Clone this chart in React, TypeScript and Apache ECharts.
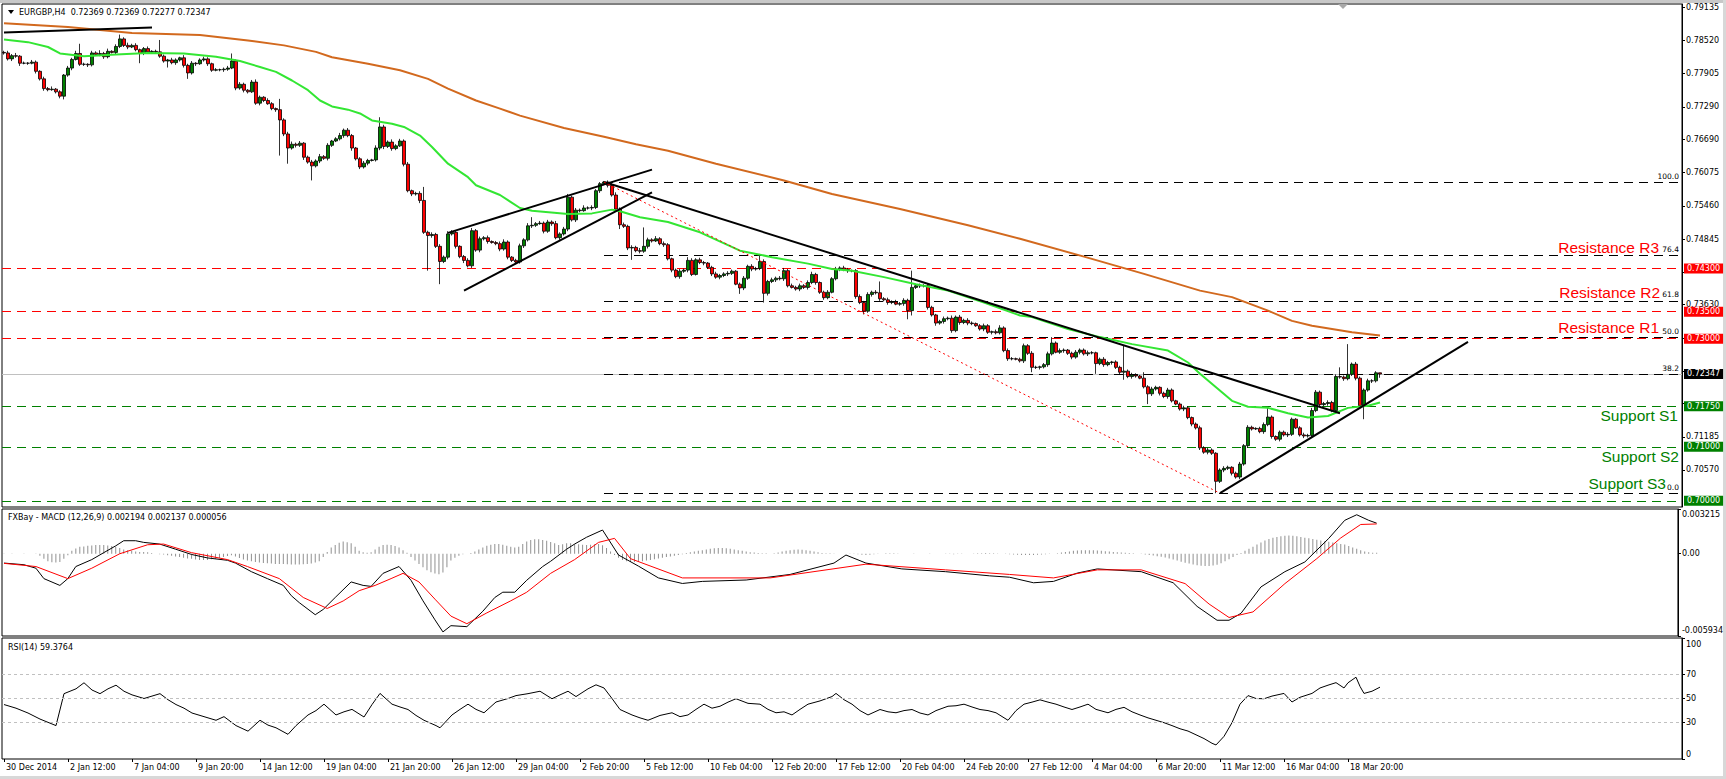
import React, { useEffect, useRef } from "react";
import * as echarts from "echarts";

const FONT = "DejaVu Sans";
const TXT_FONT = "Liberation Sans";

// ---------------- axis / labels ----------------
const timeLabels = [
  "30 Dec 2014", "2 Jan 12:00", "7 Jan 04:00", "9 Jan 20:00", "14 Jan 12:00", "19 Jan 04:00",
  "21 Jan 20:00", "26 Jan 12:00", "29 Jan 04:00", "2 Feb 20:00", "5 Feb 12:00", "10 Feb 04:00",
  "12 Feb 20:00", "17 Feb 12:00", "20 Feb 04:00", "24 Feb 20:00", "27 Feb 12:00", "4 Mar 04:00",
  "6 Mar 20:00", "11 Mar 12:00", "16 Mar 04:00", "18 Mar 20:00",
];
const barsPerLabel = 16;
const slotCount = 420;

// price-scale ticks; the ones hidden behind level boxes carry no text
const priceTicks = [0.79135, 0.7852, 0.77905, 0.7729, 0.7669, 0.76075, 0.7546, 0.74845, 0.7423, 0.7363, 0.73015, 0.724, 0.718, 0.71185, 0.7057];
const priceTickLabels = [0.79135, 0.7852, 0.77905, 0.7729, 0.7669, 0.76075, 0.7546, 0.74845, 0.7363, 0.71185, 0.7057];
const priceMin = 0.69885;
const priceMax = 0.79196;
const macdMin = -0.005934;
const macdMax = 0.003215;
const macdTicks = [0.003215, 0, -0.005934];
const rsiTicks = [100, 70, 50, 30, 0];
const rsiLevels = [70, 50, 30];

const headerText = "EURGBP,H4  0.72369 0.72369 0.72277 0.72347";
const macdTitle = "FXBay - MACD (12,26,9) 0.002194 0.002137 0.000056";
const rsiTitle = "RSI(14) 59.3764";

// ---------------- price data (pips, 1 pip = 0.0001) ----------------
const firstOpen = 7830;
const closes = [
  7829, 7818, 7824, 7823, 7810, 7810, 7810, 7812, 7795, 7781,
  7763, 7761, 7762, 7757, 7749, 7788, 7801, 7817, 7828, 7808,
  7808, 7807, 7829, 7826, 7828, 7822, 7832, 7830, 7841, 7855,
  7843, 7840, 7843, 7835, 7828, 7837, 7831, 7832, 7831, 7823,
  7814, 7816, 7811, 7816, 7820, 7806, 7792, 7810, 7809, 7816,
  7818, 7809, 7797, 7798, 7798, 7799, 7801, 7814, 7764, 7771,
  7760, 7757, 7775, 7736, 7747, 7741, 7735, 7726, 7724, 7705,
  7679, 7653, 7660, 7658, 7662, 7636, 7627, 7620, 7629, 7637,
  7634, 7658, 7666, 7670, 7676, 7686, 7676, 7653, 7633, 7618,
  7625, 7630, 7631, 7653, 7692, 7656, 7664, 7652, 7657, 7666,
  7623, 7574, 7568, 7569, 7556, 7497, 7491, 7493, 7471, 7443,
  7451, 7494, 7497, 7471, 7452, 7445, 7435, 7500, 7464, 7485,
  7487, 7480, 7478, 7476, 7466, 7479, 7451, 7445, 7442, 7472,
  7483, 7509, 7510, 7513, 7514, 7499, 7516, 7513, 7487, 7494,
  7503, 7562, 7520, 7538, 7537, 7542, 7542, 7543, 7574, 7587,
  7590, 7584, 7566, 7540, 7511, 7508, 7468, 7469, 7463, 7462,
  7471, 7483, 7481, 7485, 7476, 7474, 7448, 7427, 7415, 7425,
  7427, 7445, 7419, 7446, 7441, 7440, 7432, 7420, 7414, 7417,
  7420, 7421, 7425, 7401, 7394, 7412, 7434, 7429, 7430, 7443,
  7384, 7406, 7409, 7412, 7411, 7426, 7398, 7395, 7392, 7398,
  7395, 7404, 7419, 7404, 7386, 7376, 7386, 7411, 7429, 7431,
  7428, 7426, 7426, 7378, 7367, 7351, 7382, 7386, 7385, 7374,
  7372, 7367, 7368, 7364, 7365, 7371, 7352, 7395, 7398, 7398,
  7398, 7358, 7344, 7329, 7332, 7337, 7338, 7315, 7340, 7330,
  7334, 7329, 7328, 7324, 7318, 7324, 7312, 7313, 7311, 7320,
  7278, 7263, 7263, 7262, 7259, 7287, 7273, 7247, 7247, 7248,
  7252, 7272, 7292, 7275, 7278, 7279, 7273, 7266, 7275, 7279,
  7272, 7274, 7274, 7254, 7262, 7252, 7256, 7257, 7247, 7238,
  7240, 7230, 7233, 7231, 7227, 7211, 7198, 7207, 7210, 7199,
  7193, 7205, 7185, 7179, 7170, 7172, 7154, 7142, 7135, 7098,
  7090, 7094, 7088, 7036, 7057, 7060, 7062, 7051, 7044, 7068,
  7102, 7136, 7133, 7134, 7128, 7141, 7155, 7119, 7114, 7127,
  7122, 7123, 7151, 7135, 7122, 7120, 7121, 7167, 7201, 7178,
  7180, 7182, 7167, 7230, 7229, 7226, 7234, 7253, 7227, 7176,
  7205, 7222, 7222, 7236.9, 7234.7,
];
// wick lengths above / below the candle body, in pips
const wickUp = [
  3, 4, 3, 5, 2, 3, 2, 4, 3, 2,
  4, 3, 5, 2, 3, 2, 4, 3, 5, 18,
  3, 2, 4, 3, 6, 3, 5, 2, 4, 8,
  3, 5, 3, 4, 2, 3, 4, 2, 3, 22,
  3, 2, 4, 3, 2, 5, 3, 4, 2, 3,
  4, 3, 2, 3, 2, 3, 4, 14, 3, 4,
  3, 2, 4, 5, 3, 2, 4, 3, 2, 20,
  3, 4, 5, 3, 4, 2, 3, 4, 3, 5,
  3, 4, 2, 3, 5, 3, 4, 3, 2, 3,
  4, 3, 2, 5, 18, 4, 3, 5, 3, 4,
  3, 4, 2, 3, 4, 25, 3, 4, 3, 4,
  3, 5, 4, 3, 2, 3, 4, 5, 3, 4,
  3, 4, 2, 3, 4, 5, 3, 2, 3, 4,
  3, 5, 15, 3, 4, 3, 4, 3, 5, 3,
  4, 6, 3, 4, 3, 5, 3, 4, 3, 3,
  2, 3, 4, 5, 3, 4, 3, 4, 3, 5,
  35, 4, 3, 5, 3, 4, 3, 2, 3, 4,
  3, 6, 4, 3, 4, 3, 2, 3, 4, 3,
  3, 4, 3, 2, 3, 4, 3, 4, 3, 14,
  4, 3, 4, 3, 4, 5, 3, 4, 3, 4,
  3, 4, 5, 3, 2, 3, 4, 3, 4, 3,
  4, 3, 2, 3, 4, 3, 4, 3, 4, 21,
  3, 4, 3, 4, 3, 4, 3, 31, 3, 4,
  3, 4, 3, 2, 3, 4, 3, 5, 3, 4,
  3, 4, 3, 2, 3, 4, 3, 2, 4, 5,
  3, 4, 3, 2, 3, 4, 3, 4, 3, 2,
  3, 4, 11, 3, 4, 3, 2, 3, 4, 3,
  3, 4, 3, 2, 3, 4, 3, 2, 3, 3,
  47, 3, 4, 3, 2, 11, 3, 4, 3, 2,
  3, 4, 3, 2, 3, 4, 3, 2, 3, 4,
  3, 4, 3, 2, 3, 4, 3, 2, 3, 4,
  3, 4, 3, 2, 3, 4, 17, 3, 2, 3,
  3, 4, 3, 2, 3, 4, 3, 5, 4, 3,
  3, 4, 3, 4, 17, 3, 56, 3, 4, 3,
  3, 4, 3, 3, 0,
];
const wickDn = [
  3, 3, 4, 3, 5, 2, 3, 2, 4, 3,
  4, 3, 2, 3, 4, 6, 3, 4, 2, 3,
  3, 4, 3, 2, 3, 4, 3, 2, 3, 3,
  3, 4, 2, 3, 18, 3, 4, 2, 3, 3,
  3, 12, 3, 4, 3, 4, 11, 3, 4, 2,
  3, 4, 3, 2, 3, 4, 3, 2, 4, 3,
  4, 3, 2, 3, 4, 3, 2, 3, 4, 66,
  4, 29, 3, 4, 3, 5, 3, 27, 3, 4,
  3, 4, 3, 2, 3, 4, 3, 5, 3, 4,
  3, 4, 2, 3, 4, 5, 3, 4, 3, 2,
  4, 3, 4, 3, 5, 3, 65, 4, 3, 42,
  3, 4, 3, 4, 3, 5, 3, 4, 3, 4,
  3, 4, 2, 3, 4, 3, 4, 3, 4, 3,
  4, 3, 4, 3, 2, 4, 3, 4, 3, 4,
  3, 4, 3, 4, 3, 2, 3, 4, 3, 4,
  3, 4, 3, 5, 8, 3, 4, 22, 3, 4,
  3, 4, 3, 2, 3, 4, 3, 4, 3, 4,
  3, 4, 3, 2, 3, 4, 3, 4, 3, 4,
  3, 4, 3, 2, 11, 4, 3, 4, 3, 3,
  17, 4, 3, 4, 3, 4, 3, 2, 3, 4,
  3, 4, 3, 4, 3, 4, 3, 2, 3, 4,
  3, 4, 3, 4, 3, 6, 3, 4, 3, 4,
  3, 4, 3, 2, 3, 4, 16, 9, 3, 4,
  3, 4, 3, 5, 3, 4, 3, 4, 3, 4,
  3, 4, 3, 2, 3, 4, 3, 4, 3, 3,
  3, 4, 3, 2, 3, 4, 3, 9, 3, 4,
  3, 4, 3, 2, 3, 4, 3, 4, 3, 4,
  3, 4, 3, 19, 3, 4, 3, 4, 3, 4,
  14, 3, 4, 3, 2, 3, 19, 4, 3, 4,
  3, 4, 3, 2, 3, 4, 3, 4, 3, 4,
  3, 4, 3, 22, 3, 4, 3, 4, 3, 4,
  3, 4, 3, 2, 3, 4, 3, 4, 3, 4,
  3, 4, 3, 2, 3, 4, 3, 4, 3, 4,
  3, 4, 3, 4, 3, 4, 3, 3, 4, 5,
  25, 3, 4, 3, 7,
];

// moving averages [bar, pips]
const ma50 = [
  [0, 7854], [6, 7849], [11, 7840], [14, 7828], [20, 7823], [28, 7826], [36, 7829], [45, 7828],
  [53, 7822], [59, 7814], [64, 7803], [68, 7794], [72, 7778], [76, 7760], [79, 7741], [82, 7730],
  [86, 7724], [89, 7717], [92, 7704], [97, 7698], [100, 7692], [104, 7676], [107, 7655], [111, 7624],
  [116, 7599], [118, 7584], [124, 7566], [129, 7542], [132, 7537], [141, 7531], [147, 7532],
  [152, 7539], [154, 7536], [159, 7525], [166, 7516], [174, 7497], [184, 7463], [192, 7451],
  [201, 7439], [207, 7429], [212, 7426], [220, 7414], [228, 7401], [236, 7389], [245, 7367],
  [254, 7343], [257, 7340], [266, 7318], [274, 7303], [282, 7290], [291, 7278], [296, 7256],
  [299, 7235], [303, 7210], [307, 7185], [311, 7174], [316, 7172], [321, 7162], [326, 7154],
  [331, 7157], [336, 7172], [341, 7176], [344, 7182],
];
const ma200 = [
  [0, 7884], [16, 7877], [32, 7866], [49, 7862], [61, 7852], [70, 7843], [78, 7831], [82, 7821],
  [91, 7809], [99, 7797], [106, 7781], [111, 7763], [118, 7741], [124, 7726], [129, 7713],
  [140, 7690], [150, 7674], [158, 7660], [166, 7648], [178, 7624], [195, 7593], [207, 7568],
  [224, 7540], [241, 7510], [254, 7485], [270, 7452], [285, 7420], [299, 7389], [307, 7377],
  [316, 7352], [322, 7333], [327, 7324], [332, 7318], [337, 7312], [344, 7306],
];

// drawn trend lines [bar, pips]
const topLine = [[0, 7867], [37, 7876]];
const wedgeUpper = [[111, 7496], [162, 7613]];
const wedgeLower = [[115, 7389], [162, 7571]];
const downTrend = [[150, 7590], [334, 7162]];
const upTrend = [[304, 7014], [366, 7294]];
const dottedLine = [[150, 7590], [304, 7014]];

// horizontal levels
const resistanceLevels = [0.743, 0.735, 0.73];
const resistanceNames = ["Resistance R3", "Resistance R2", "Resistance R1"];
const supportLevels = [0.7175, 0.71, 0.7];
const supportNames = ["Support S1", "Support S2", "Support S3"];
const lastPrice = 0.72347;
const fibHigh = 0.759;
const fibLow = 0.7014;
const fibStartBar = 150;
const fibRatios = [100, 76.4, 61.8, 50, 38.2, 0];

// ---------------- MACD (values) ----------------
const macdLine = [
  [0, -0.00068], [5, -0.0008], [8, -0.00105], [10, -0.0018], [14, -0.00229], [16, -0.0018],
  [18, -0.00093], [22, -0.00043], [25, 0.00007], [28, 0.00056], [30, 0.00093], [33, 0.00093],
  [35, 0.00081], [39, 0.00069], [43, 0.00032], [47, -0.00006], [51, -0.00031], [56, -0.00048],
  [58, -0.00068], [62, -0.0013], [66, -0.0018], [70, -0.00229], [72, -0.00303], [74, -0.00353],
  [78, -0.0044], [80, -0.00402], [83, -0.00316], [87, -0.00204], [90, -0.00229], [92, -0.00236],
  [95, -0.00142], [99, -0.00093], [102, -0.00192], [105, -0.0034], [108, -0.00477], [110, -0.00564],
  [112, -0.00519], [116, -0.00526], [120, -0.00415], [123, -0.00316], [125, -0.00278],
  [128, -0.00278], [131, -0.00192], [135, -0.00093], [137, -0.00055], [141, 0.00032],
  [143, 0.00069], [146, 0.00118], [150, 0.0017], [154, -0.0001], [159, -0.0009], [164, -0.00175],
  [170, -0.00215], [175, -0.002], [186, -0.0019], [197, -0.0015], [208, -0.00068], [211, -0.0001],
  [216, -0.00068], [225, -0.0011], [236, -0.0013], [247, -0.0016], [252, -0.0017], [258, -0.0021],
  [263, -0.002], [269, -0.0014], [274, -0.0011], [285, -0.0013], [293, -0.0021], [299, -0.0038],
  [304, -0.0048], [307, -0.0048], [310, -0.0043], [315, -0.0024], [321, -0.0013], [326, -0.0006],
  [332, 0.0011], [336, 0.0024], [339, 0.0028], [342, 0.0024], [344, 0.002194],
];
const signalLine = [
  [0, -0.0007], [8, -0.00093], [16, -0.0018], [22, -0.00105], [29, -0.00001], [36, 0.00064],
  [40, 0.00069], [47, 0.00007], [56, -0.00043], [61, -0.00093], [69, -0.0018], [75, -0.00316],
  [81, -0.00395], [85, -0.00341], [89, -0.00267], [93, -0.00229], [97, -0.0018], [100, -0.00142],
  [104, -0.00204], [108, -0.00328], [112, -0.0045], [116, -0.00505], [121, -0.00427],
  [127, -0.0034], [131, -0.00278], [137, -0.00142], [143, -0.00043], [149, 0.00081],
  [153, 0.0011], [157, -0.00036], [170, -0.00175], [192, -0.00175], [208, -0.00109],
  [216, -0.00076], [236, -0.00117], [252, -0.0015], [263, -0.00175], [274, -0.00117],
  [285, -0.00117], [296, -0.00216], [302, -0.00363], [307, -0.0046], [313, -0.0042],
  [321, -0.00216], [329, -0.00036], [335, 0.00113], [340, 0.0021], [344, 0.002137],
];
// histogram, in units of 0.00001
const macdHist = [
  1, -1, 1, 0, -1, 1, 0, -1, -2, -15,
  -37, -55, -62, -64, -60, -37, -12, 20, 37, 50,
  52, 57, 59, 62, 62, 62, 59, 55, 50, 40,
  30, 25, 20, 15, 12, 12, 10, 5, 0, -5,
  -7, -12, -15, -20, -25, -30, -35, -37, -42, -45,
  -45, -45, -40, -37, -32, -25, -17, -12, -20, -32,
  -42, -50, -55, -60, -64, -67, -69, -72, -74, -74,
  -74, -77, -79, -79, -79, -77, -74, -72, -64, -55,
  -25, 12, 45, 62, 79, 87, 82, 74, 50, 20,
  10, 7, 10, 30, 50, 62, 64, 62, 55, 45,
  25, 7, -25, -50, -74, -99, -119, -134, -144, -149,
  -136, -99, -50, -30, -15, -5, 0, 5, 15, 30,
  45, 57, 64, 69, 69, 64, 57, 50, 45, 50,
  69, 87, 99, 104, 104, 99, 92, 84, 74, 62,
  67, 74, 74, 69, 67, 64, 62, 64, 67, 69,
  60, 40, 15, -10, -30, -45, -55, -60, -60, -58,
  -55, -50, -45, -40, -35, -30, -25, -20, -15, -10,
  -5, 5, 10, 15, 20, 25, 30, 35, 38, 40,
  40, 38, 35, 30, 25, 20, 15, 10, 8, 5,
  3, 2, 0, 3, 8, 15, 20, 25, 28, 30,
  28, 25, 20, 15, 10, 5, 3, 2, 1, 0,
  -1, 0, 1, -2, -5, -8, -10, -8, -5, -3,
  0, 2, 3, 2, 1, 0, -1, 0, 1, 0,
  -1, 0, 1, 0, -1, 0, -2, -3, -4, -3,
  -2, -1, 0, 1, 2, 3, 4, 3, 2, 1,
  0, -2, -4, -6, -8, -9, -10, -10, -9, -8,
  -6, -4, -2, 0, 3, 8, 12, 16, 20, 22,
  24, 25, 25, 24, 22, 20, 18, 15, 12, 10,
  8, 6, 4, 2, 0, -3, -6, -10, -14, -18,
  -22, -28, -35, -42, -50, -58, -65, -72, -78, -84,
  -88, -90, -90, -86, -80, -70, -55, -40, -25, -10,
  5, 20, 35, 50, 65, 80, 95, 105, 115, 120,
  125, 128, 130, 128, 125, 120, 115, 110, 105, 100,
  95, 90, 85, 80, 75, 70, 65, 55, 45, 35,
  25, 15, 10, 6, 5.6,
];

// ---------------- RSI(14) [bar, value] ----------------
const rsiLine = [
  [0, 45], [3, 42], [6, 38], [9, 33], [13, 27.6], [15, 54], [18, 58], [20, 63], [22, 57], [24, 54],
  [26, 58], [28, 61], [30, 56], [32, 53], [35, 50], [37, 52], [39, 54], [41, 49], [43, 45], [45, 42],
  [47, 38], [50, 35], [53, 32], [55, 35], [58, 27.6], [61, 23], [64, 32], [66, 28], [68, 25.8],
  [71, 20.4], [73, 27.6], [76, 36.4], [78, 40], [80, 45.3], [83, 36.4], [85, 39], [87, 41],
  [90, 34.7], [92, 45], [94, 54.2], [97, 45.3], [99, 43], [101, 40.9], [103, 36], [105, 32],
  [108, 27.6], [109, 25.8], [112, 36.4], [114, 41], [116, 45.3], [118, 41], [120, 38.2], [123, 47.1],
  [126, 50], [128, 52.4], [131, 54], [134, 56], [137, 49.8], [139, 53], [141, 56], [143, 51.6],
  [146, 58], [148, 61.3], [150, 58.7], [152, 50], [154, 40.9], [157, 36.4], [159, 34], [161, 32],
  [164, 36], [167, 38.2], [169, 35], [171, 36.4], [173, 41], [175, 45.3], [177, 42], [179, 43.6],
  [181, 47], [183, 49.8], [186, 46], [189, 45.3], [191, 41], [193, 38.2], [195, 39], [197, 36.4],
  [199, 41], [201, 45.3], [204, 48], [207, 51.6], [208, 54.2], [210, 49], [212, 45.3], [214, 40],
  [216, 36.4], [219, 40.9], [221, 39], [223, 38.2], [225, 40], [227, 40.9], [229, 38], [231, 36.4],
  [233, 40], [236, 43.6], [238, 44], [240, 45.3], [242, 43], [244, 40.9], [246, 40], [248, 38.2],
  [251, 32], [253, 40], [255, 45.3], [257, 47], [259, 48.9], [261, 47], [263, 45.3], [265, 43],
  [267, 40.9], [269, 43], [271, 45.3], [273, 41], [276, 38.2], [278, 41], [280, 42.7], [282, 39],
  [284, 36.4], [286, 34], [288, 32], [290, 30], [292, 27.6], [294, 25], [296, 23.1], [298, 20],
  [300, 16.9], [302, 13], [303, 11.6], [305, 18.7], [307, 30], [309, 45.3], [311, 52.4], [313, 50],
  [315, 49.8], [317, 52], [320, 54.2], [322, 47.1], [324, 51], [327, 54.2], [329, 58.7], [331, 61],
  [333, 63.1], [335, 58.7], [336, 63], [338, 67.6], [339, 60], [340, 54.2], [342, 56], [344, 59.3764],
];

// ---------------- helpers ----------------
const P = (pips: number) => pips / 10000;
const slots = Array.from({ length: slotCount }, (_, i) => String(i));

function buildCandles() {
  return closes.map((c, i) => {
    const o = i === 0 ? firstOpen : closes[i - 1];
    const hi = Math.max(o, c) + wickUp[i];
    const lo = Math.min(o, c) - wickDn[i];
    return [P(o), P(c), P(lo), P(hi)];
  });
}

const RED = "#ff0000";
const GREEN = "#008000";
const DASH = [9, 6];

function buildOption() {
  const axisLabelBase = { fontFamily: FONT, fontSize: 8, color: "#000" };
  const showTime = (i: number) => i % barsPerLabel === 0 && i / barsPerLabel < timeLabels.length;

  const fibMarks = fibRatios.map((r) => {
    const v = fibLow + (r / 100) * (fibHigh - fibLow);
    return [
      { coord: [fibStartBar, v], lineStyle: { color: "#000", type: DASH, width: 1 }, label: { show: false } },
      { coord: [slotCount - 1, v] },
    ];
  });

  const boxLabel = (text: string, bg: string) => ({
    show: true,
    position: "end",
    distance: 2,
    formatter: text,
    backgroundColor: bg,
    color: "#fff",
    fontFamily: FONT,
    fontSize: 8,
    lineHeight: 9,
    padding: [1, 3, 0, 3],
  });

  const levelMarks: any[] = [
    {
      yAxis: lastPrice,
      lineStyle: { color: "#c0c0c0", type: "solid", width: 1 },
      label: boxLabel(lastPrice.toFixed(5), "#000"),
    },
    ...resistanceLevels.map((v) => ({
      yAxis: v,
      lineStyle: { color: RED, type: DASH, width: 1 },
      label: boxLabel(v.toFixed(5), RED),
    })),
    ...supportLevels.map((v) => ({
      yAxis: v,
      lineStyle: { color: GREEN, type: DASH, width: 1 },
      label: boxLabel(v.toFixed(5), GREEN),
    })),
  ];

  const trend = (name: string, pts: number[][], style: any) => ({
    type: "line",
    name,
    xAxisIndex: 0,
    yAxisIndex: 0,
    data: pts.map(([b, p]) => [b, P(p)]),
    symbol: "none",
    lineStyle: style,
    silent: true,
    z: 4,
  });

  const gridBase = { left: 2, width: 1680, show: true, borderColor: "#000", borderWidth: 1, backgroundColor: "#fff" };

  const xBase = (gi: number) => ({
    type: "category",
    gridIndex: gi,
    data: slots,
    boundaryGap: true,
    axisLine: { show: false },
    axisTick: { show: false },
    axisLabel: { show: false },
    splitLine: { show: false },
  });

  return {
    animation: false,
    backgroundColor: "#fff",
    grid: [
      { ...gridBase, top: 4, height: 503 },
      { ...gridBase, top: 509, height: 127 },
      { ...gridBase, top: 638, height: 121 },
    ],
    xAxis: [
      xBase(0),
      xBase(1),
      {
        ...xBase(2),
        axisTick: {
          show: true,
          interval: (i: number) => showTime(i),
          alignWithLabel: true,
          length: 3,
          lineStyle: { color: "#000" },
        },
        axisLabel: {
          show: true,
          ...axisLabelBase,
          interval: (i: number) => showTime(i),
          formatter: (_v: string, i: number) => timeLabels[i / barsPerLabel] ?? "",
          align: "left",
          margin: 4,
          padding: [0, 0, 0, 2],
        },
      },
    ],
    yAxis: [
      {
        type: "value",
        gridIndex: 0,
        position: "right",
        min: priceMin,
        max: priceMax,
        splitLine: { show: false },
        axisLine: { show: true, lineStyle: { color: "#000" } },
        axisTick: { show: true, length: 3, customValues: priceTicks, lineStyle: { color: "#000" } },
        axisLabel: { ...axisLabelBase, customValues: priceTickLabels, formatter: (v: number) => v.toFixed(5), margin: 4 },
      },
      {
        type: "value",
        gridIndex: 1,
        position: "right",
        min: macdMin,
        max: macdMax,
        splitLine: { show: false },
        axisLine: { show: true, lineStyle: { color: "#000" } },
        axisTick: { show: true, length: 3, customValues: macdTicks, lineStyle: { color: "#000" } },
        axisLabel: {
          ...axisLabelBase,
          customValues: macdTicks,
          margin: 4,
          formatter: (v: number) =>
            v > 0 ? "{t|" + v.toFixed(6) + "}" : v < 0 ? "{b|" + v.toFixed(6) + "}" : "0.00",
          rich: {
            t: { fontFamily: FONT, fontSize: 8, color: "#000", padding: [11, 0, 0, 0] },
            b: { fontFamily: FONT, fontSize: 8, color: "#000", padding: [0, 0, 11, 0] },
          },
        },
      },
      {
        type: "value",
        gridIndex: 2,
        position: "right",
        min: 0,
        max: 100,
        splitLine: { show: false },
        axisLine: { show: true, lineStyle: { color: "#000" } },
        axisTick: { show: true, length: 3, customValues: rsiTicks, lineStyle: { color: "#000" } },
        axisLabel: {
          ...axisLabelBase,
          customValues: rsiTicks,
          margin: 4,
          formatter: (v: number) => (v === 100 ? "{t|100}" : v === 0 ? "{b|0}" : String(v)),
          rich: {
            t: { fontFamily: FONT, fontSize: 8, color: "#000", padding: [13, 0, 0, 0] },
            b: { fontFamily: FONT, fontSize: 8, color: "#000", padding: [0, 0, 10, 0] },
          },
        },
      },
    ],
    series: [
      {
        type: "candlestick",
        name: "EURGBP",
        xAxisIndex: 0,
        yAxisIndex: 0,
        data: buildCandles(),
        barWidth: 3,
        silent: true,
        z: 2,
        itemStyle: {
          color: GREEN,
          color0: RED,
          borderColor: "#000",
          borderColor0: "#000",
          borderWidth: 0.8,
        },
        markLine: {
          silent: true,
          symbol: ["none", "none"],
          precision: 5,
          animation: false,
          z: 1,
          data: [...levelMarks, ...fibMarks],
        },
      },
      {
        type: "line",
        name: "MA200",
        xAxisIndex: 0,
        yAxisIndex: 0,
        data: ma200.map(([b, p]) => [b, P(p)]),
        symbol: "none",
        lineStyle: { color: "#d2691e", width: 2 },
        silent: true,
        z: 3,
      },
      {
        type: "line",
        name: "MA50",
        xAxisIndex: 0,
        yAxisIndex: 0,
        data: ma50.map(([b, p]) => [b, P(p)]),
        symbol: "none",
        lineStyle: { color: "#33e633", width: 2 },
        silent: true,
        z: 3,
      },
      trend("top line", topLine, { color: "#000", width: 2 }),
      trend("wedge upper", wedgeUpper, { color: "#000", width: 2 }),
      trend("wedge lower", wedgeLower, { color: "#000", width: 2 }),
      trend("down trend", downTrend, { color: "#000", width: 2 }),
      trend("up trend", upTrend, { color: "#000", width: 2 }),
      trend("dotted", dottedLine, { color: RED, width: 1, type: [2, 3] }),
      {
        type: "bar",
        name: "OsMA",
        xAxisIndex: 1,
        yAxisIndex: 1,
        data: macdHist.map((v) => v / 100000),
        barWidth: 1,
        itemStyle: { color: "#909090" },
        silent: true,
      },
      {
        type: "line",
        name: "MACD",
        xAxisIndex: 1,
        yAxisIndex: 1,
        data: macdLine,
        symbol: "none",
        lineStyle: { color: "#000", width: 1 },
        silent: true,
        z: 3,
      },
      {
        type: "line",
        name: "Signal",
        xAxisIndex: 1,
        yAxisIndex: 1,
        data: signalLine,
        symbol: "none",
        lineStyle: { color: RED, width: 1 },
        silent: true,
        z: 3,
      },
      {
        type: "line",
        name: "RSI",
        xAxisIndex: 2,
        yAxisIndex: 2,
        data: rsiLine,
        symbol: "none",
        lineStyle: { color: "#000", width: 1 },
        silent: true,
        z: 3,
        markLine: {
          silent: true,
          symbol: ["none", "none"],
          precision: 2,
          label: { show: false },
          lineStyle: { color: "#c0c0c0", type: [3, 3], width: 1 },
          data: rsiLevels.map((v) => ({ yAxis: v })),
        },
      },
    ],
  };
}

export default function App() {
  const ref = useRef<HTMLDivElement>(null);
  useEffect(() => {
    if (!ref.current) return;
    const chart = echarts.init(ref.current, undefined, { renderer: "svg" });
    chart.setOption(buildOption() as any);

    const yPix = (v: number) => chart.convertToPixel({ yAxisIndex: 0 }, v) as number;
    const gridRight = 1682;
    const txt = (id: string, x: number, y: number, text: string, fill: string, font: string, align = "left") => ({
      type: "text",
      id,
      x,
      y,
      silent: true,
      z: 100,
      style: { text, fill, font, align, verticalAlign: "middle" },
    });

    const resDy = [-21, -19.5, -11];
    const resDx = [23, 22, 23];
    const supDy = [9.5, 9.5, -17.5];
    const supDx = [4, 3, 16];
    const big = "15.5px '" + TXT_FONT + "', Arial, sans-serif";
    const small = "7.5px '" + FONT + "', sans-serif";
    const hdr = "8px '" + FONT + "', sans-serif";

    const elements: any[] = [
      { type: "rect", id: "frameTop", shape: { x: 0, y: 0, width: 1726, height: 3 }, style: { fill: "#c8c8c8" }, silent: true },
      { type: "rect", id: "frameRight", shape: { x: 1723, y: 0, width: 3, height: 779 }, style: { fill: "#d8d8d8" }, silent: true },
      { type: "rect", id: "frameBottom", shape: { x: 0, y: 776, width: 1726, height: 3 }, style: { fill: "#d8d8d8" }, silent: true },
      {
        type: "polygon",
        id: "hdrTri",
        shape: { points: [[8, 10], [14, 10], [11, 14]] },
        style: { fill: "#000" },
        silent: true,
      },
      txt("hdr", 19, 12.5, headerText, "#000", hdr),
      txt("macdT", 8, 517, macdTitle, "#000", hdr),
      txt("rsiT", 8, 647, rsiTitle, "#000", hdr),
      {
        type: "polygon",
        id: "shiftMark",
        shape: { points: [[1338, 4], [1348, 4], [1343, 9]] },
        style: { fill: "#a8a8a8" },
        silent: true,
      },
    ];
    resistanceLevels.forEach((v, i) => {
      elements.push(txt("res" + i, gridRight - resDx[i], yPix(v) + resDy[i], resistanceNames[i], RED, big, "right"));
    });
    supportLevels.forEach((v, i) => {
      elements.push(txt("sup" + i, gridRight - supDx[i], yPix(v) + supDy[i], supportNames[i], GREEN, big, "right"));
    });
    fibRatios.forEach((r, i) => {
      const v = fibLow + (r / 100) * (fibHigh - fibLow);
      elements.push(txt("fib" + i, gridRight - 3, yPix(v) - 6, r.toFixed(1), "#000", small, "right"));
    });
    chart.setOption({ graphic: elements } as any);

    return () => chart.dispose();
  }, []);
  return (
    <div
      ref={ref}
      style={{ position: "absolute", left: 0, top: 0, width: 1726, height: 779, background: "#fff" }}
    />
  );
}
